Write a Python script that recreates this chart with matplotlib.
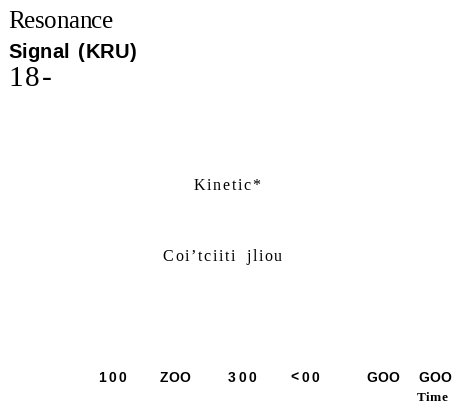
import matplotlib.pyplot as plt

# axis text
y_title = "Resonance"
y_unit = "Signal (KRU)"
y_top_tick = "18-"
x_title = "Time"

# x tick labels and where they sit along the axis (pixel units)
x_ticks = ["100", "ZOO", "300", "<00", "GOO", "GOO"]
x_tick_pos = [112, 175, 242, 305, 383, 435]

# curve annotations: (label, x, y)
annotations = [("Kinetic*", 227, 190), ("Coi\u2019tciiti jliou", 221, 261)]

fig = plt.figure(figsize=(4.6, 4.04), dpi=100)
ax = fig.add_axes([0, 0, 1, 1])
ax.set_xlim(0, 460)
ax.set_ylim(404, 0)
ax.axis("off")

serif = "Liberation Serif"
sans = "Liberation Sans"
renderer = fig.canvas.get_renderer()


def text_width(s, **kw):
    t = ax.text(0, 0, s, **kw)
    w = t.get_window_extent(renderer).width
    t.remove()
    return w


def tracked_text(x, y, s, tracking=0.0, ha="left", **kw):
    """Draw s one glyph at a time with extra spacing (pixels) between glyphs."""
    total = text_width(s, **kw) + tracking * (len(s) - 1)
    x0 = x - total / 2 if ha == "center" else x
    for i, ch in enumerate(s):
        if ch == " ":
            continue
        left = text_width(s[:i + 1], **kw) - text_width(ch, **kw)
        # a little extra room at word breaks
        gap = 3 if " " in s[:i] else 0
        ax.text(x0 + left + tracking * i + gap, y, ch, va="baseline", ha="left", **kw)


tracked_text(8, 28, y_title, tracking=-0.4, family=serif, fontsize=18)
tracked_text(8, 58, y_unit, tracking=0.2, family=sans, fontsize=14.5, fontweight="bold")
tracked_text(8, 86, y_top_tick, tracking=2.5, family=serif, fontsize=21)

for label, x, y in annotations:
    tracked_text(x, y, label, tracking=1.7, ha="center", family=serif, fontsize=11.5)

tick_tracking = [2.6, 0.4, 2.6, 2.6, 0.4, 0.4]
for label, x, tr in zip(x_ticks, x_tick_pos, tick_tracking):
    tracked_text(x, 382, label, tracking=tr, ha="center", family=sans, fontsize=10,
                 fontweight="bold")
tracked_text(432, 401, x_title, tracking=0.6, ha="center", family=serif, fontsize=9.5,
             fontweight="bold")

fig.savefig("out.png", dpi=100)
